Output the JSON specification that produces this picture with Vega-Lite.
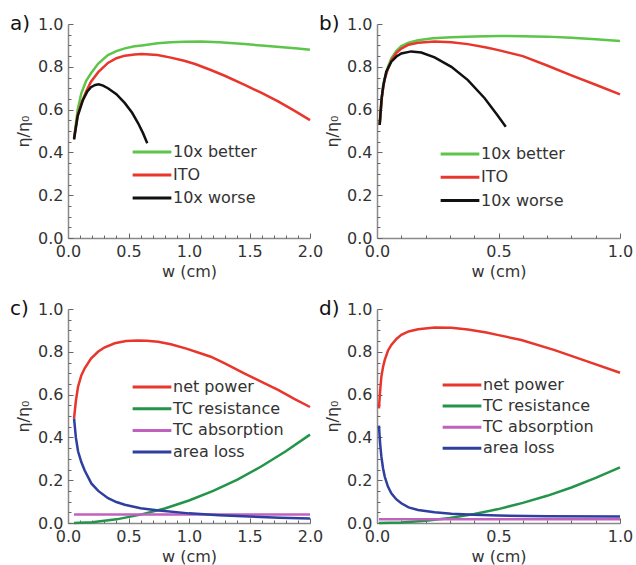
{
  "$schema": "https://vega.github.io/schema/vega-lite/v6.json",
  "background": "white",
  "padding": {"left": 10, "top": 14, "right": 5, "bottom": 5},
  "datasets": {
    "a": [
      {"s": "10x better", "w": 0.05, "v": 0.466}, {"s": "10x better", "w": 0.08, "v": 0.6}, {"s": "10x better", "w": 0.11, "v": 0.676},
      {"s": "10x better", "w": 0.15, "v": 0.735}, {"s": "10x better", "w": 0.19, "v": 0.77}, {"s": "10x better", "w": 0.25, "v": 0.815},
      {"s": "10x better", "w": 0.33, "v": 0.855}, {"s": "10x better", "w": 0.4, "v": 0.873}, {"s": "10x better", "w": 0.47, "v": 0.886},
      {"s": "10x better", "w": 0.55, "v": 0.896}, {"s": "10x better", "w": 0.61, "v": 0.9}, {"s": "10x better", "w": 0.74, "v": 0.91},
      {"s": "10x better", "w": 0.85, "v": 0.915}, {"s": "10x better", "w": 0.96, "v": 0.917}, {"s": "10x better", "w": 1.1, "v": 0.918},
      {"s": "10x better", "w": 1.25, "v": 0.915}, {"s": "10x better", "w": 1.46, "v": 0.906}, {"s": "10x better", "w": 1.6, "v": 0.899},
      {"s": "10x better", "w": 1.75, "v": 0.892}, {"s": "10x better", "w": 1.9, "v": 0.885}, {"s": "10x better", "w": 2.0, "v": 0.88},
      {"s": "ITO", "w": 0.05, "v": 0.466}, {"s": "ITO", "w": 0.08, "v": 0.575}, {"s": "ITO", "w": 0.11, "v": 0.63},
      {"s": "ITO", "w": 0.15, "v": 0.685}, {"s": "ITO", "w": 0.19, "v": 0.73}, {"s": "ITO", "w": 0.25, "v": 0.775},
      {"s": "ITO", "w": 0.33, "v": 0.818}, {"s": "ITO", "w": 0.4, "v": 0.84}, {"s": "ITO", "w": 0.47, "v": 0.852},
      {"s": "ITO", "w": 0.55, "v": 0.858}, {"s": "ITO", "w": 0.61, "v": 0.86}, {"s": "ITO", "w": 0.74, "v": 0.855},
      {"s": "ITO", "w": 0.85, "v": 0.843}, {"s": "ITO", "w": 0.96, "v": 0.828}, {"s": "ITO", "w": 1.05, "v": 0.813},
      {"s": "ITO", "w": 1.18, "v": 0.785}, {"s": "ITO", "w": 1.3, "v": 0.757}, {"s": "ITO", "w": 1.46, "v": 0.715},
      {"s": "ITO", "w": 1.6, "v": 0.678}, {"s": "ITO", "w": 1.74, "v": 0.637}, {"s": "ITO", "w": 1.87, "v": 0.595},
      {"s": "ITO", "w": 2.0, "v": 0.551},
      {"s": "10x worse", "w": 0.05, "v": 0.46}, {"s": "10x worse", "w": 0.08, "v": 0.57}, {"s": "10x worse", "w": 0.124, "v": 0.645},
      {"s": "10x worse", "w": 0.16, "v": 0.685}, {"s": "10x worse", "w": 0.19, "v": 0.705}, {"s": "10x worse", "w": 0.225, "v": 0.715},
      {"s": "10x worse", "w": 0.254, "v": 0.718}, {"s": "10x worse", "w": 0.29, "v": 0.712}, {"s": "10x worse", "w": 0.33, "v": 0.7},
      {"s": "10x worse", "w": 0.4, "v": 0.672}, {"s": "10x worse", "w": 0.47, "v": 0.63}, {"s": "10x worse", "w": 0.53, "v": 0.585},
      {"s": "10x worse", "w": 0.58, "v": 0.536}, {"s": "10x worse", "w": 0.62, "v": 0.49}, {"s": "10x worse", "w": 0.655, "v": 0.443}
    ],
    "b": [
      {"s": "10x better", "w": 0.011, "v": 0.528}, {"s": "10x better", "w": 0.02, "v": 0.66}, {"s": "10x better", "w": 0.03, "v": 0.74},
      {"s": "10x better", "w": 0.045, "v": 0.8}, {"s": "10x better", "w": 0.059, "v": 0.84}, {"s": "10x better", "w": 0.08, "v": 0.875},
      {"s": "10x better", "w": 0.1, "v": 0.897}, {"s": "10x better", "w": 0.13, "v": 0.913}, {"s": "10x better", "w": 0.169, "v": 0.924},
      {"s": "10x better", "w": 0.23, "v": 0.933}, {"s": "10x better", "w": 0.306, "v": 0.938}, {"s": "10x better", "w": 0.4, "v": 0.942},
      {"s": "10x better", "w": 0.5, "v": 0.944}, {"s": "10x better", "w": 0.6, "v": 0.943}, {"s": "10x better", "w": 0.7, "v": 0.941},
      {"s": "10x better", "w": 0.8, "v": 0.936}, {"s": "10x better", "w": 0.9, "v": 0.929}, {"s": "10x better", "w": 1.0, "v": 0.92},
      {"s": "ITO", "w": 0.011, "v": 0.528}, {"s": "ITO", "w": 0.02, "v": 0.66}, {"s": "ITO", "w": 0.03, "v": 0.735},
      {"s": "ITO", "w": 0.045, "v": 0.79}, {"s": "ITO", "w": 0.059, "v": 0.83}, {"s": "ITO", "w": 0.08, "v": 0.865},
      {"s": "ITO", "w": 0.1, "v": 0.885}, {"s": "ITO", "w": 0.13, "v": 0.903}, {"s": "ITO", "w": 0.169, "v": 0.912},
      {"s": "ITO", "w": 0.237, "v": 0.918}, {"s": "ITO", "w": 0.306, "v": 0.915}, {"s": "ITO", "w": 0.374, "v": 0.906},
      {"s": "ITO", "w": 0.45, "v": 0.89}, {"s": "ITO", "w": 0.5, "v": 0.878}, {"s": "ITO", "w": 0.6, "v": 0.85},
      {"s": "ITO", "w": 0.7, "v": 0.806}, {"s": "ITO", "w": 0.8, "v": 0.76}, {"s": "ITO", "w": 0.9, "v": 0.716},
      {"s": "ITO", "w": 1.0, "v": 0.671},
      {"s": "10x worse", "w": 0.011, "v": 0.528}, {"s": "10x worse", "w": 0.018, "v": 0.64}, {"s": "10x worse", "w": 0.025, "v": 0.707},
      {"s": "10x worse", "w": 0.038, "v": 0.777}, {"s": "10x worse", "w": 0.059, "v": 0.824}, {"s": "10x worse", "w": 0.08, "v": 0.848},
      {"s": "10x worse", "w": 0.1, "v": 0.862}, {"s": "10x worse", "w": 0.141, "v": 0.872}, {"s": "10x worse", "w": 0.182, "v": 0.867},
      {"s": "10x worse", "w": 0.237, "v": 0.844}, {"s": "10x worse", "w": 0.306, "v": 0.8}, {"s": "10x worse", "w": 0.374, "v": 0.738},
      {"s": "10x worse", "w": 0.443, "v": 0.653}, {"s": "10x worse", "w": 0.495, "v": 0.575}, {"s": "10x worse", "w": 0.53, "v": 0.52}
    ],
    "c": [
      {"s": "net power", "w": 0.05, "v": 0.489}, {"s": "net power", "w": 0.065, "v": 0.57}, {"s": "net power", "w": 0.083, "v": 0.637},
      {"s": "net power", "w": 0.11, "v": 0.69}, {"s": "net power", "w": 0.138, "v": 0.723}, {"s": "net power", "w": 0.19, "v": 0.768},
      {"s": "net power", "w": 0.248, "v": 0.8}, {"s": "net power", "w": 0.3, "v": 0.82}, {"s": "net power", "w": 0.386, "v": 0.84},
      {"s": "net power", "w": 0.48, "v": 0.85}, {"s": "net power", "w": 0.579, "v": 0.853}, {"s": "net power", "w": 0.65, "v": 0.852},
      {"s": "net power", "w": 0.744, "v": 0.847}, {"s": "net power", "w": 0.85, "v": 0.835}, {"s": "net power", "w": 0.978, "v": 0.815},
      {"s": "net power", "w": 1.1, "v": 0.792}, {"s": "net power", "w": 1.18, "v": 0.777}, {"s": "net power", "w": 1.3, "v": 0.745},
      {"s": "net power", "w": 1.46, "v": 0.698}, {"s": "net power", "w": 1.6, "v": 0.66}, {"s": "net power", "w": 1.74, "v": 0.621},
      {"s": "net power", "w": 1.87, "v": 0.58}, {"s": "net power", "w": 2.0, "v": 0.542},
      {"s": "TC resistance", "w": 0.05, "v": 0.0003}, {"s": "TC resistance", "w": 0.2, "v": 0.004}, {"s": "TC resistance", "w": 0.4, "v": 0.017},
      {"s": "TC resistance", "w": 0.6, "v": 0.039}, {"s": "TC resistance", "w": 0.8, "v": 0.068}, {"s": "TC resistance", "w": 1.0, "v": 0.105},
      {"s": "TC resistance", "w": 1.2, "v": 0.15}, {"s": "TC resistance", "w": 1.4, "v": 0.203}, {"s": "TC resistance", "w": 1.6, "v": 0.265},
      {"s": "TC resistance", "w": 1.8, "v": 0.335}, {"s": "TC resistance", "w": 2.0, "v": 0.413},
      {"s": "TC absorption", "w": 0.05, "v": 0.04}, {"s": "TC absorption", "w": 1.0, "v": 0.04}, {"s": "TC absorption", "w": 2.0, "v": 0.04},
      {"s": "area loss", "w": 0.05, "v": 0.489}, {"s": "area loss", "w": 0.065, "v": 0.4}, {"s": "area loss", "w": 0.083, "v": 0.335},
      {"s": "area loss", "w": 0.11, "v": 0.285}, {"s": "area loss", "w": 0.138, "v": 0.245}, {"s": "area loss", "w": 0.193, "v": 0.185},
      {"s": "area loss", "w": 0.25, "v": 0.15}, {"s": "area loss", "w": 0.331, "v": 0.116}, {"s": "area loss", "w": 0.4, "v": 0.098},
      {"s": "area loss", "w": 0.469, "v": 0.085}, {"s": "area loss", "w": 0.6, "v": 0.069}, {"s": "area loss", "w": 0.75, "v": 0.058},
      {"s": "area loss", "w": 1.0, "v": 0.045}, {"s": "area loss", "w": 1.25, "v": 0.036}, {"s": "area loss", "w": 1.5, "v": 0.03},
      {"s": "area loss", "w": 1.75, "v": 0.025}, {"s": "area loss", "w": 2.0, "v": 0.021}
    ],
    "d": [
      {"s": "net power", "w": 0.008, "v": 0.536}, {"s": "net power", "w": 0.013, "v": 0.62}, {"s": "net power", "w": 0.018, "v": 0.684},
      {"s": "net power", "w": 0.025, "v": 0.73}, {"s": "net power", "w": 0.032, "v": 0.762}, {"s": "net power", "w": 0.045, "v": 0.805},
      {"s": "net power", "w": 0.059, "v": 0.832}, {"s": "net power", "w": 0.08, "v": 0.86}, {"s": "net power", "w": 0.1, "v": 0.879},
      {"s": "net power", "w": 0.13, "v": 0.895}, {"s": "net power", "w": 0.169, "v": 0.905}, {"s": "net power", "w": 0.237, "v": 0.913},
      {"s": "net power", "w": 0.306, "v": 0.912}, {"s": "net power", "w": 0.374, "v": 0.904}, {"s": "net power", "w": 0.45, "v": 0.89},
      {"s": "net power", "w": 0.5, "v": 0.878}, {"s": "net power", "w": 0.594, "v": 0.855}, {"s": "net power", "w": 0.731, "v": 0.808},
      {"s": "net power", "w": 0.868, "v": 0.754}, {"s": "net power", "w": 1.0, "v": 0.702},
      {"s": "TC resistance", "w": 0.008, "v": 0.0}, {"s": "TC resistance", "w": 0.1, "v": 0.0026}, {"s": "TC resistance", "w": 0.2, "v": 0.0104},
      {"s": "TC resistance", "w": 0.3, "v": 0.023}, {"s": "TC resistance", "w": 0.4, "v": 0.042}, {"s": "TC resistance", "w": 0.5, "v": 0.065},
      {"s": "TC resistance", "w": 0.6, "v": 0.094}, {"s": "TC resistance", "w": 0.7, "v": 0.127}, {"s": "TC resistance", "w": 0.8, "v": 0.166},
      {"s": "TC resistance", "w": 0.9, "v": 0.211}, {"s": "TC resistance", "w": 1.0, "v": 0.26},
      {"s": "TC absorption", "w": 0.008, "v": 0.017}, {"s": "TC absorption", "w": 0.5, "v": 0.017}, {"s": "TC absorption", "w": 1.0, "v": 0.017},
      {"s": "area loss", "w": 0.008, "v": 0.455}, {"s": "area loss", "w": 0.013, "v": 0.37}, {"s": "area loss", "w": 0.018, "v": 0.31},
      {"s": "area loss", "w": 0.025, "v": 0.255}, {"s": "area loss", "w": 0.032, "v": 0.216}, {"s": "area loss", "w": 0.045, "v": 0.17},
      {"s": "area loss", "w": 0.059, "v": 0.139}, {"s": "area loss", "w": 0.08, "v": 0.11}, {"s": "area loss", "w": 0.1, "v": 0.092},
      {"s": "area loss", "w": 0.13, "v": 0.073}, {"s": "area loss", "w": 0.169, "v": 0.061}, {"s": "area loss", "w": 0.237, "v": 0.05},
      {"s": "area loss", "w": 0.306, "v": 0.043}, {"s": "area loss", "w": 0.4, "v": 0.038}, {"s": "area loss", "w": 0.5, "v": 0.035},
      {"s": "area loss", "w": 0.7, "v": 0.032}, {"s": "area loss", "w": 1.0, "v": 0.03}
    ]
  },
  "columns": 2,
  "bounds": "flush",
  "spacing": {"row": 71, "column": 67},
  "concat": [
    {
      "width": 242, "height": 214,
      "title": "a)",
      "data": {"name": "a"},
      "resolve": {"axis": {"x": "independent", "y": "independent"}},
      "layer": [
        {
          "mark": {"type": "line", "strokeWidth": 2.5},
          "encoding": {
            "x": {"field": "w", "type": "quantitative", "scale": {"domain": [0, 2], "nice": false},
              "axis": {"title": "w (cm)", "values": [0, 0.5, 1, 1.5, 2], "format": ".1f", "ticks": false}},
            "y": {"field": "v", "type": "quantitative", "scale": {"domain": [0, 1], "nice": false},
              "axis": {"title": "η/η₀", "values": [0, 0.2, 0.4, 0.6, 0.8, 1], "format": ".1f", "ticks": false}},
            "color": {"field": "s", "type": "nominal",
              "scale": {"domain": ["10x better", "ITO", "10x worse"], "range": ["#5cc54a", "#e8362c", "#111111"]},
              "legend": {"title": null, "orient": "none", "legendX": 63, "legendY": 120, "rowPadding": 7}}
          }
        },
        {
          "mark": {"type": "point", "opacity": 0},
          "encoding": {
            "x": {"field": "w", "type": "quantitative", "scale": {"domain": [0, 2], "nice": false},
              "axis": {"orient": "top", "offset": -214, "title": null, "labels": false, "domain": false,
                "values": [0,0.1,0.2,0.3,0.4,0.5,0.6,0.7,0.8,0.9,1,1.1,1.2,1.3,1.4,1.5,1.6,1.7,1.8,1.9,2],
                "tickSize": {"condition": {"test": "abs(datum.value*2 - round(datum.value*2)) < 0.001", "value": 5}, "value": 3}}},
            "y": {"field": "v", "type": "quantitative", "scale": {"domain": [0, 1], "nice": false},
              "axis": {"orient": "right", "offset": -242, "title": null, "labels": false, "domain": false,
                "values": [0,0.05,0.1,0.15,0.2,0.25,0.3,0.35,0.4,0.45,0.5,0.55,0.6,0.65,0.7,0.75,0.8,0.85,0.9,0.95,1],
                "tickSize": {"condition": {"test": "abs(datum.value*5 - round(datum.value*5)) < 0.001", "value": 5}, "value": 3}}}
          }
        }
      ]
    },
    {
      "width": 243, "height": 214,
      "title": "b)",
      "data": {"name": "b"},
      "resolve": {"axis": {"x": "independent", "y": "independent"}},
      "layer": [
        {
          "mark": {"type": "line", "strokeWidth": 2.5},
          "encoding": {
            "x": {"field": "w", "type": "quantitative", "scale": {"domain": [0, 1], "nice": false},
              "axis": {"title": "w (cm)", "values": [0, 0.5, 1], "format": ".1f", "ticks": false}},
            "y": {"field": "v", "type": "quantitative", "scale": {"domain": [0, 1], "nice": false},
              "axis": {"title": "η/η₀", "values": [0, 0.2, 0.4, 0.6, 0.8, 1], "format": ".1f", "ticks": false}},
            "color": {"field": "s", "type": "nominal",
              "scale": {"domain": ["10x better", "ITO", "10x worse"], "range": ["#5cc54a", "#e8362c", "#111111"]},
              "legend": {"title": null, "orient": "none", "legendX": 62, "legendY": 122, "rowPadding": 7.3}}
          }
        },
        {
          "mark": {"type": "point", "opacity": 0},
          "encoding": {
            "x": {"field": "w", "type": "quantitative", "scale": {"domain": [0, 1], "nice": false},
              "axis": {"orient": "top", "offset": -214, "title": null, "labels": false, "domain": false,
                "values": [0,0.1,0.2,0.3,0.4,0.5,0.6,0.7,0.8,0.9,1],
                "tickSize": {"condition": {"test": "abs(datum.value*2 - round(datum.value*2)) < 0.001", "value": 5}, "value": 3}}},
            "y": {"field": "v", "type": "quantitative", "scale": {"domain": [0, 1], "nice": false},
              "axis": {"orient": "right", "offset": -243, "title": null, "labels": false, "domain": false,
                "values": [0,0.05,0.1,0.15,0.2,0.25,0.3,0.35,0.4,0.45,0.5,0.55,0.6,0.65,0.7,0.75,0.8,0.85,0.9,0.95,1],
                "tickSize": {"condition": {"test": "abs(datum.value*5 - round(datum.value*5)) < 0.001", "value": 5}, "value": 3}}}
          }
        }
      ]
    },
    {
      "width": 242, "height": 214,
      "title": "c)",
      "data": {"name": "c"},
      "resolve": {"axis": {"x": "independent", "y": "independent"}},
      "layer": [
        {
          "mark": {"type": "line", "strokeWidth": 2.5},
          "encoding": {
            "x": {"field": "w", "type": "quantitative", "scale": {"domain": [0, 2], "nice": false},
              "axis": {"title": "w (cm)", "values": [0, 0.5, 1, 1.5, 2], "format": ".1f", "ticks": false}},
            "y": {"field": "v", "type": "quantitative", "scale": {"domain": [0, 1], "nice": false},
              "axis": {"title": "η/η₀", "values": [0, 0.2, 0.4, 0.6, 0.8, 1], "format": ".1f", "ticks": false}},
            "color": {"field": "s", "type": "nominal",
              "scale": {"domain": ["net power", "TC resistance", "TC absorption", "area loss"], "range": ["#e8362c", "#23944a", "#c061bf", "#2f3f9f"]},
              "legend": {"title": null, "orient": "none", "legendX": 63, "legendY": 70, "rowPadding": 5.7}}
          }
        },
        {
          "mark": {"type": "point", "opacity": 0},
          "encoding": {
            "x": {"field": "w", "type": "quantitative", "scale": {"domain": [0, 2], "nice": false},
              "axis": {"orient": "top", "offset": -214, "title": null, "labels": false, "domain": false,
                "values": [0,0.1,0.2,0.3,0.4,0.5,0.6,0.7,0.8,0.9,1,1.1,1.2,1.3,1.4,1.5,1.6,1.7,1.8,1.9,2],
                "tickSize": {"condition": {"test": "abs(datum.value*2 - round(datum.value*2)) < 0.001", "value": 5}, "value": 3}}},
            "y": {"field": "v", "type": "quantitative", "scale": {"domain": [0, 1], "nice": false},
              "axis": {"orient": "right", "offset": -242, "title": null, "labels": false, "domain": false,
                "values": [0,0.05,0.1,0.15,0.2,0.25,0.3,0.35,0.4,0.45,0.5,0.55,0.6,0.65,0.7,0.75,0.8,0.85,0.9,0.95,1],
                "tickSize": {"condition": {"test": "abs(datum.value*5 - round(datum.value*5)) < 0.001", "value": 5}, "value": 3}}}
          }
        }
      ]
    },
    {
      "width": 243, "height": 214,
      "title": "d)",
      "data": {"name": "d"},
      "resolve": {"axis": {"x": "independent", "y": "independent"}},
      "layer": [
        {
          "mark": {"type": "line", "strokeWidth": 2.5},
          "encoding": {
            "x": {"field": "w", "type": "quantitative", "scale": {"domain": [0, 1], "nice": false},
              "axis": {"title": "w (cm)", "values": [0, 0.5, 1], "format": ".1f", "ticks": false}},
            "y": {"field": "v", "type": "quantitative", "scale": {"domain": [0, 1], "nice": false},
              "axis": {"title": "η/η₀", "values": [0, 0.2, 0.4, 0.6, 0.8, 1], "format": ".1f", "ticks": false}},
            "color": {"field": "s", "type": "nominal",
              "scale": {"domain": ["net power", "TC resistance", "TC absorption", "area loss"], "range": ["#e8362c", "#23944a", "#c061bf", "#2f3f9f"]},
              "legend": {"title": null, "orient": "none", "legendX": 64, "legendY": 68, "rowPadding": 5.1}}
          }
        },
        {
          "mark": {"type": "point", "opacity": 0},
          "encoding": {
            "x": {"field": "w", "type": "quantitative", "scale": {"domain": [0, 1], "nice": false},
              "axis": {"orient": "top", "offset": -214, "title": null, "labels": false, "domain": false,
                "values": [0,0.1,0.2,0.3,0.4,0.5,0.6,0.7,0.8,0.9,1],
                "tickSize": {"condition": {"test": "abs(datum.value*2 - round(datum.value*2)) < 0.001", "value": 5}, "value": 3}}},
            "y": {"field": "v", "type": "quantitative", "scale": {"domain": [0, 1], "nice": false},
              "axis": {"orient": "right", "offset": -243, "title": null, "labels": false, "domain": false,
                "values": [0,0.05,0.1,0.15,0.2,0.25,0.3,0.35,0.4,0.45,0.5,0.55,0.6,0.65,0.7,0.75,0.8,0.85,0.9,0.95,1],
                "tickSize": {"condition": {"test": "abs(datum.value*5 - round(datum.value*5)) < 0.001", "value": 5}, "value": 3}}}
          }
        }
      ]
    }
  ],
  "resolve": {"scale": {"color": "independent"}},
  "config": {
    "view": {"stroke": null},
    "font": "DejaVu Sans",
    "axis": {"grid": false, "domainColor": "#8a8a8a", "domainWidth": 1.5, "tickColor": "#666666", "tickWidth": 1, "labelFlush": false,
      "labelFontSize": 16, "labelColor": "#333333", "titleFontSize": 16, "titleFontWeight": "normal", "titleColor": "#333333"},
    "axisY": {"titlePadding": 6, "labelPadding": 5},
    "axisX": {"titlePadding": 4, "labelPadding": 5},
    "legend": {"symbolType": "stroke", "symbolSize": 1500, "symbolStrokeWidth": 3, "clipHeight": 16, "labelFontSize": 16, "labelColor": "#333333",
      "labelOffset": 0, "padding": 0},
    "title": {"anchor": "start", "fontSize": 20, "fontWeight": "normal", "color": "#111111", "dx": -58, "dy": 22, "frame": "group"}
  }
}
